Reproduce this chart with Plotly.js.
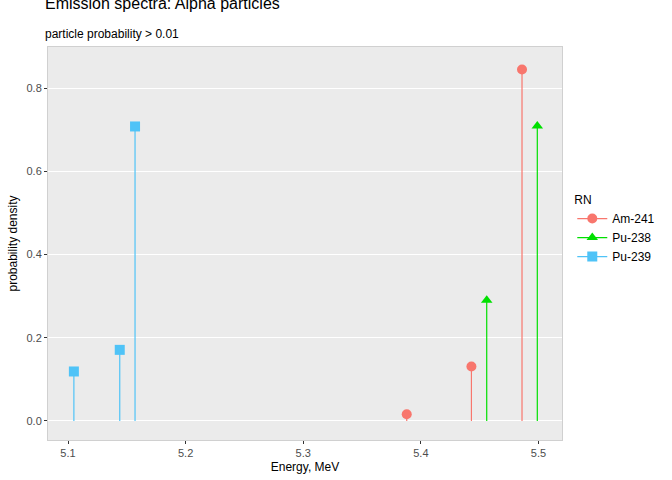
<!DOCTYPE html>
<html><head><script src="https://cdn.plot.ly/plotly-3.0.1.min.js"></script></head>
<body style="margin:0"><div id="c" style="width:672px;height:480px"></div>
<script>
const series = ["Am-241","Pu-238","Pu-239"];
const energy = [[5.388,5.443,5.486],[5.456,5.499],[5.105,5.144,5.157]];
const prob = [[0.016,0.131,0.845],[0.290,0.709],[0.119,0.171,0.708]];
const colors = ["#F8766D","#00E000","#4FC3F7"];
const symbols = ["circle","triangle-up","square"];
const traces = [];
series.forEach((s,i)=>{
  const sx=[], sy=[], px=[], py=[];
  energy[i].forEach((e,j)=>{sx.push(e,e,null); sy.push(0,prob[i][j],null); px.push(e,null); py.push(prob[i][j],null);});
  traces.push({x:sx,y:sy,mode:"lines",line:{color:colors[i],width:1.2},showlegend:false,hoverinfo:"skip"});
  traces.push({x:px,y:py,mode:"markers+lines",name:s,line:{color:colors[i],width:1.2},
    marker:{color:colors[i],symbol:symbols[i],size:10}});
});
const layout = {
  width:672,height:480,paper_bgcolor:"white",plot_bgcolor:"#EBEBEB",
  font:{family:"Liberation Sans, Arial",size:11,color:"#4D4D4D"},
  margin:{l:48,r:107,t:47,b:40},
  annotations:[
    {text:"Emission spectra: Alpha particles",xref:"paper",yref:"paper",x:-0.01,y:1.085,xanchor:"left",yanchor:"bottom",showarrow:false,font:{size:16,color:"black"}},
    {text:"particle probability > 0.01",xref:"paper",yref:"paper",x:-0.01,y:1.01,xanchor:"left",yanchor:"bottom",showarrow:false,font:{size:12,color:"black"}}
  ],
  xaxis:{range:[5.083,5.520],tickvals:[5.1,5.2,5.3,5.4,5.5],ticktext:["5.1","5.2","5.3","5.4","5.5"],
    showgrid:false,zeroline:false,ticks:"outside",ticklen:3,tickcolor:"#333",
    showline:true,mirror:true,linecolor:"#D0D0D0",
    title:{text:"Energy, MeV",font:{size:12,color:"black"},standoff:4}},
  yaxis:{range:[-0.0457,0.899],tickvals:[0,0.2,0.4,0.6,0.8],ticktext:["0.0","0.2","0.4","0.6","0.8"],
    gridcolor:"white",zeroline:false,ticks:"outside",ticklen:3,tickcolor:"#333",
    showline:true,mirror:true,linecolor:"#D0D0D0",
    title:{text:"probability density",font:{size:12,color:"black"},standoff:6}},
  legend:{x:1.02,y:0.64,xanchor:"left",yanchor:"top",title:{text:"RN",font:{size:12,color:"black"}},
    font:{size:12,color:"black"},bgcolor:"white"},
  showlegend:true
};
Plotly.newPlot("c",traces,layout,{displayModeBar:false});
</script></body></html>
